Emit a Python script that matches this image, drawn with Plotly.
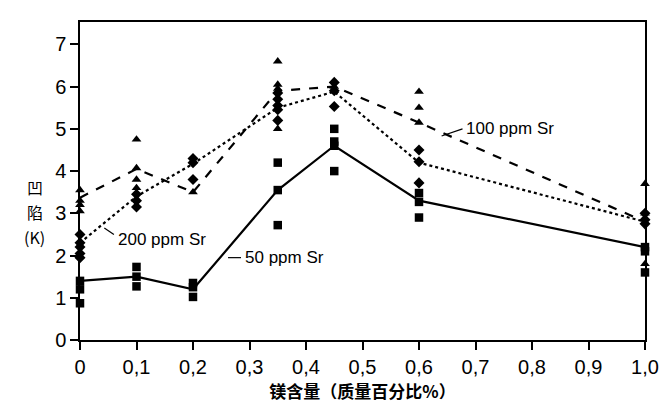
import plotly.graph_objects as go

# Mg content categories (mass %)
mg = [0, 0.1, 0.2, 0.35, 0.45, 0.6, 1.0]

# Mean curves
mean_50 = [1.4, 1.5, 1.2, 3.55, 4.6, 3.3, 2.2]
mean_100 = [3.37, 4.05, 3.5, 5.9, 6.0, 5.15, 2.8]
mean_200 = [2.3, 3.4, 4.17, 5.5, 5.88, 4.2, 2.8]

# Individual measurements
pts50_x = [0, 0, 0, 0.1, 0.1, 0.1, 0.2, 0.2, 0.2, 0.35, 0.35, 0.35,
           0.45, 0.45, 0.45, 0.45, 0.6, 0.6, 0.6, 1.0, 1.0, 1.0]
pts50_y = [1.4, 1.2, 0.87, 1.73, 1.5, 1.27, 1.35, 1.25, 1.02, 4.2, 3.55, 2.72,
           5.0, 4.7, 4.6, 4.0, 3.48, 3.27, 2.9, 2.2, 2.1, 1.6]

pts100_x = [0, 0, 0, 0, 0.1, 0.1, 0.1, 0.1, 0.2, 0.35, 0.35, 0.35, 0.35,
            0.45, 0.45, 0.6, 0.6, 0.6, 1.0, 1.0, 1.0]
pts100_y = [3.55, 3.3, 3.2, 3.05, 4.75, 4.07, 3.8, 3.6, 3.5, 6.6, 6.05, 5.95, 5.0,
            6.0, 5.9, 5.88, 5.5, 5.15, 3.7, 3.0, 1.8]

pts200_x = [0, 0, 0, 0, 0, 0.1, 0.1, 0.1, 0.2, 0.2, 0.2, 0.35, 0.35, 0.35, 0.35, 0.35,
            0.45, 0.45, 0.45, 0.6, 0.6, 0.6, 1.0, 1.0, 1.0]
pts200_y = [2.5, 2.3, 2.2, 2.05, 1.95, 3.45, 3.3, 3.15, 4.3, 4.2, 3.8,
            5.85, 5.7, 5.55, 5.45, 5.2, 6.1, 5.9, 5.53, 4.5, 4.22, 3.72, 3.0, 2.85, 2.75]

x_tickvals = [0, 0.1, 0.2, 0.3, 0.4, 0.5, 0.6, 0.7, 0.8, 0.9, 1.0]
x_ticktext = ["0", "0,1", "0,2", "0,3", "0,4", "0,5", "0,6", "0,7", "0,8", "0,9", "1,0"]
y_tickvals = [0, 1, 2, 3, 4, 5, 6, 7]
y_title_parts = ["凹", "陷", "(K)"]

fig = go.Figure()
line_specs = [(mean_50, "solid"), (mean_100, "dash"), (mean_200, "dot")]
for ys, dash in line_specs:
    fig.add_trace(go.Scatter(x=mg, y=ys, mode="lines",
                             line=dict(color="black", width=2.2, dash=dash),
                             cliponaxis=False, showlegend=False))

for xs, ys, sym in [(pts50_x, pts50_y, "square"), (pts100_x, pts100_y, "triangle-up"),
                    (pts200_x, pts200_y, "diamond")]:
    fig.add_trace(go.Scatter(x=xs, y=ys, mode="markers",
                             marker=dict(symbol=sym, color="black", size=8.5),
                             cliponaxis=False, showlegend=False))

# Series labels with leader lines
label_font = dict(family="Liberation Sans, Arial, sans-serif", size=17, color="black")
fig.add_annotation(x=0.68, y=5.0, text="100 ppm Sr", showarrow=False, xanchor="left",
                   yanchor="middle", font=label_font)
fig.add_shape(type="line", x0=0.677, y0=5.0, x1=0.64, y1=4.83, line=dict(color="black", width=1.2))
fig.add_annotation(x=0.063, y=2.37, text="200 ppm Sr", showarrow=False, xanchor="left",
                   yanchor="middle", font=label_font)
fig.add_shape(type="line", x0=0.06, y0=2.5, x1=0.043, y1=2.65, line=dict(color="black", width=1.2))
fig.add_annotation(x=0.288, y=1.95, text="50 ppm Sr", showarrow=False, xanchor="left",
                   yanchor="middle", font=label_font)
fig.add_shape(type="line", x0=0.285, y0=1.95, x1=0.262, y1=1.95, line=dict(color="black", width=1.2))

# Y-axis title (vertical stack of upright characters)
for part, py in zip(y_title_parts, [0.481, 0.403, 0.324]):
    fig.add_annotation(xref="paper", yref="paper", x=-0.080, y=py, text=part,
                       showarrow=False, xanchor="center", yanchor="middle",
                       font=dict(family="Noto Sans CJK SC, sans-serif", size=16, color="black"))

axis_common = dict(showline=True, linecolor="black", linewidth=1.5, mirror=True,
                   ticks="outside", ticklen=8, tickwidth=1.5, tickcolor="black",
                   showgrid=False, zeroline=False,
                   tickfont=dict(family="Liberation Sans, Arial, sans-serif", size=20, color="black"))

fig.update_xaxes(range=[0, 1.0], tickvals=x_tickvals, ticktext=x_ticktext,
                 title=dict(text="<b>镁含量（质量百分比%）</b>", standoff=2,
                            font=dict(family="Noto Sans CJK SC, sans-serif", size=17, color="black")),
                 **axis_common)
fig.update_yaxes(range=[0, 7.53], tickvals=y_tickvals, **axis_common)

# page body has an 8px margin, so the figure is sized/offset to compensate
fig.update_layout(width=662, height=412, margin=dict(l=72, r=25, t=14, b=80),
                  plot_bgcolor="white", paper_bgcolor="white")

fig.write_html("out.html")
